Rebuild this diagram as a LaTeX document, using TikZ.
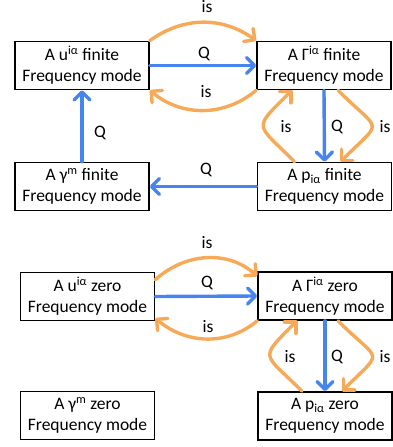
\documentclass[tikz,border=0pt]{standalone}
\usepackage{fontspec}
\setmainfont{Carlito}
\usepackage{xcolor}
\usepackage{tikz}
\usetikzlibrary{arrows.meta}
\definecolor{isorange}{RGB}{246, 170, 88}
\definecolor{qblue}{RGB}{70, 132, 240}

\begin{document}
\begin{tikzpicture}[x=1pt, y=1pt,
        mode/.style = {draw=black, line width=1.6pt, fill=white, minimum width=134pt, minimum height=48pt, inner sep=0pt, align=center, font=\fontsize{17.5}{21}\selectfont},
        lbl/.style = {inner sep=0pt, font=\fontsize{17.5}{21}\selectfont},
        qarrow/.style = {draw=qblue, line width=3.4pt, line cap=round, -{Straight Barb[length=8pt, width=16pt, line cap=round, line join=round]}},
        isarrow/.style = {draw=isorange, line width=3.4pt, line cap=round, -{Straight Barb[length=8pt, width=16pt, line cap=round, line join=round]}}]
        \useasboundingbox (0,0) rectangle (393,-447);
        \node[mode] (uf) at (82, -65.5) {A u\textsuperscript{iα} finite\\Frequency mode};
        \node[mode] (Gf) at (324, -65.5) {A Γ\textsuperscript{iα} finite\\Frequency mode};
        \node[mode] (gf) at (82, -186.5) {A γ\textsuperscript{m} finite\\Frequency mode};
        \node[mode] (pf) at (324.5, -186.5) {A p\textsubscript{iα} finite\\Frequency mode};
        \node[mode] (uz) at (87.5, -296.5) {A u\textsuperscript{iα} zero\\Frequency mode};
        \node[mode] (Gz) at (325, -296) {A Γ\textsuperscript{iα} zero\\Frequency mode};
        \node[mode] (gz) at (87.5, -415.5) {A γ\textsuperscript{m} zero\\Frequency mode};
        \node[mode] (pz) at (325, -416) {A p\textsubscript{iα} zero\\Frequency mode};

        \draw[isarrow] (uf.north east) to[out=36, in=144] (Gf.north west);
        \draw[qarrow] (uf.east) -- (Gf.west);
        \draw[isarrow] (Gf.south west) to[out=-140, in=-40] (uf.south east);
        \draw[qarrow] (gf.north) -- (uf.south);
        \draw[qarrow] (Gf.south) -- (pf.north);
        \draw[qarrow] (pf.west) -- (gf.east);
        \draw[isarrow] ([xshift=-30pt]pf.north) to[out=135, in=-135, looseness=2] ([xshift=-32pt]Gf.south);
        \draw[isarrow] ([xshift=14pt]Gf.south) to[out=-45, in=45, looseness=2.2] ([xshift=16pt]pf.north);
        \node[lbl] (isfa) at (207, -7) {is};
        \node[lbl] (qfa) at (204, -54) {Q};
        \node[lbl] (isfb) at (206, -92) {is};
        \node[lbl] (qfb) at (100, -133) {Q};
        \node[lbl] (qfc) at (206, -170) {Q};
        \node[lbl] (isfc) at (286, -127) {is};
        \node[lbl] (qfd) at (337, -127) {Q};
        \node[lbl] (isfd) at (385, -127) {is};

        \draw[isarrow] ([yshift=-8pt]uz.north east) to[out=42, in=138] ([yshift=-5pt]Gz.north west);
        \draw[qarrow] (uz.east) -- (Gz.west);
        \draw[isarrow] (Gz.south west) to[out=-140, in=-40] ([yshift=3pt]uz.south east);
        \draw[qarrow] (Gz.south) -- (pz.north);
        \draw[isarrow] ([xshift=-23pt]pz.north) to[out=135, in=-135, looseness=2] ([xshift=-28pt]Gz.south);
        \draw[isarrow] ([xshift=13pt]Gz.south) to[out=-45, in=45, looseness=2.2] ([xshift=17pt]pz.north);
        \node[lbl] (isza) at (207, -243) {is};
        \node[lbl] (qza) at (207, -283) {Q};
        \node[lbl] (iszb) at (208, -327) {is};
        \node[lbl] (iszc) at (290, -357) {is};
        \node[lbl] (qzd) at (337, -357) {Q};
        \node[lbl] (iszd) at (385, -357) {is};
    \end{tikzpicture}
\end{document}
